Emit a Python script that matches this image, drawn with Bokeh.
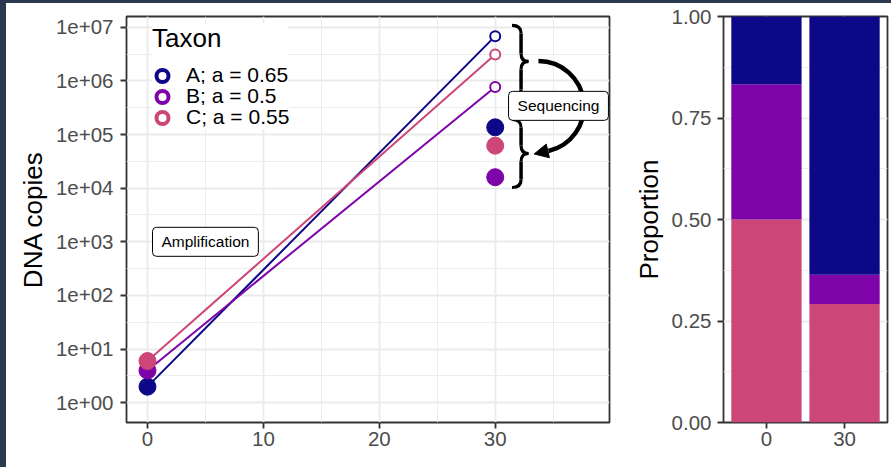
import numpy as np
from bokeh.plotting import figure
from bokeh.models import (Range1d, FactorRange, FixedTicker, CustomJSTickFormatter,
                          NumeralTickFormatter, Legend, LegendItem, Label, Arrow,
                          NormalHead, ColumnDataSource)
from bokeh.layouts import row
from bokeh.embed import file_html
from bokeh.resources import INLINE

FONT = "Liberation Sans"

# ---------------- data ----------------
taxa = ["A", "B", "C"]
taxon_labels = ["A; a = 0.65", "B; a = 0.5", "C; a = 0.55"]
taxon_colors = ["#0D0887", "#7E03A8", "#CC4678"]
cycle_start = [0, 0, 0]
cycle_end = [30, 30, 30]
start_copies = [2, 4, 6]
end_copies = [6.8e6, 7.7e5, 3.1e6]
seq_copies = [1.36e5, 1.6e4, 6.2e4]

bar_times = ["0", "30"]
prop_A = [0.167, 0.636]
prop_B = [0.333, 0.072]
prop_C = [0.500, 0.292]

x_ticks = [0, 10, 20, 30]
x_minor = [5, 15, 25, 35]
y_ticks = [1e0, 1e1, 1e2, 1e3, 1e4, 1e5, 1e6, 1e7]
y_minor = [10 ** (k + 0.5) for k in range(7)]
p_ticks = [0, 0.25, 0.5, 0.75, 1.0]
p_minor = [0.125, 0.375, 0.625, 0.875]


def style(p):
    for ax in p.axis:
        ax.axis_line_color = None
        ax.major_tick_line_color = "#333333"
        ax.major_tick_line_width = 1.8
        ax.major_tick_out = 6
        ax.major_tick_in = 0
        ax.minor_tick_line_color = None
        ax.major_label_text_font = FONT
        ax.major_label_text_font_size = "20.5px"
        ax.major_label_text_color = "#4D4D4D"
        ax.axis_label_text_font = FONT
        ax.axis_label_text_font_size = "26px"
        ax.axis_label_text_font_style = "normal"
        ax.axis_label_text_color = "black"
    p.outline_line_color = "#333333"
    p.outline_line_width = 1.8
    p.border_fill_color = "white"
    for g in p.grid:
        g.grid_line_color = "#EBEBEB"
        g.grid_line_width = 1.8
        g.minor_grid_line_color = "#EBEBEB"
        g.minor_grid_line_width = 0.9


# ---------------- left panel ----------------
p1 = figure(width=614, height=464, x_range=Range1d(-1.81, 39.86),
            y_range=Range1d(10 ** -0.367, 10 ** 7.199), y_axis_type="log",
            output_backend="svg", toolbar_location=None,
            min_border_left=120, min_border_right=11, min_border_top=13, min_border_bottom=45)
p1.xaxis.ticker = FixedTicker(ticks=x_ticks, minor_ticks=x_minor)
p1.yaxis.ticker = FixedTicker(ticks=y_ticks, minor_ticks=y_minor)
p1.yaxis.formatter = CustomJSTickFormatter(code="""
const e = Math.round(Math.log10(tick));
return "1e" + (e < 0 ? "-" : "+") + String(Math.abs(e)).padStart(2, "0");
""")
p1.yaxis.axis_label = "DNA copies"
style(p1)
p1.yaxis.major_label_standoff = 7
p1.xaxis.major_label_standoff = 3

src = ColumnDataSource(dict(taxon=taxa, color=taxon_colors, x0=cycle_start, x1=cycle_end,
                            y0=start_copies, y1=end_copies, ys=seq_copies))
p1.segment(x0="x0", y0="y0", x1="x1", y1="y1", line_color="color", line_width=2, source=src)
# ring glyph used as the legend key (hidden under the filled start points)
ring = p1.annulus(x="x0", y="y0", inner_radius=4, outer_radius=8,
                  inner_radius_units="screen", outer_radius_units="screen",
                  fill_color="color", line_color=None, source=src)
p1.scatter(x="x0", y="y0", size=17, fill_color="color", line_color="color", source=src)
p1.scatter(x="x1", y="y1", size=10, fill_color="white", line_color="color", line_width=2, source=src)
p1.scatter(x="x1", y="ys", size=17, fill_color="color", line_color="color", source=src)

# braces (annotation)
def brace(xe, xs, xt, yt, ym, yb, k):
    q = dict(x0=[xe, xs, xt, xs], y0=[yt, ym + k, ym, yb + k],
             x1=[xs, xt, xs, xe], y1=[yt - k, ym, ym - k, yb],
             cx=[xs, xs, xs, xs], cy=[yt, ym, ym, yb])
    s = dict(x0=[xs, xs], y0=[yt - k, ym - k], x1=[xs, xs], y1=[ym + k, yb + k])
    return q, s

for (yt, ym, yb) in [(7.032, 6.361, 5.690), (5.280, 4.646, 4.012)]:
    q, s = brace(31.45, 32.23, 32.87, yt, ym, yb, 0.15)
    p1.quadratic(x0=q["x0"], y0=[10 ** v for v in q["y0"]], x1=q["x1"],
                 y1=[10 ** v for v in q["y1"]], cx=q["cx"], cy=[10 ** v for v in q["cy"]],
                 line_color="black", line_width=3.2)
    p1.segment(x0=s["x0"], y0=[10 ** v for v in s["y0"]], x1=s["x1"],
               y1=[10 ** v for v in s["y1"]], line_color="black", line_width=3.5)

# curved arrow
p1.arc(x=[33.73], y=[10 ** 5.52], radius=45.5, radius_units="screen",
       start_angle=-1.35, end_angle=np.pi / 2, direction="anticlock",
       line_color="black", line_width=4.5)
p1.add_layout(Arrow(end=NormalHead(size=14, fill_color="black", line_color="black"),
                    x_start=34.54, y_start=10 ** 4.695, x_end=33.36, y_end=10 ** 4.637,
                    line_color="black", line_width=4.5))

for txt, xx, yy in [("Amplification", 5, 1e3), ("Sequencing", 35.46, 3.42e5)]:
    p1.add_layout(Label(x=xx, y=yy, text=txt, text_align="center", text_baseline="middle",
                        text_font=FONT, text_font_size="15.5px", text_color="black",
                        background_fill_color="white", border_line_color="black",
                        border_line_width=1, border_radius=4,
                        padding=dict(left=9, right=9, top=6, bottom=6)))

# legend: one Legend per entry so the rows can sit closer than the text height
legend_locs = [(26, 335), (26, 314), (26, 293)]
for i, lab in enumerate(taxon_labels):
    lg = Legend(items=[LegendItem(label=lab, renderers=[ring], index=i)],
                title="Taxon" if i == 0 else None, location=legend_locs[i],
                glyph_width=20, glyph_height=21, label_height=20, spacing=0,
                padding=0, margin=0, label_standoff=14, title_standoff=9,
                label_text_font=FONT, label_text_font_size="21px", label_text_color="black",
                title_text_font=FONT, title_text_font_size="26px",
                title_text_font_style="normal", title_text_color="black",
                border_line_color=None, background_fill_color="white",
                background_fill_alpha=1)
    p1.add_layout(lg)

# ---------------- right panel ----------------
p2 = figure(width=271, height=464,
            x_range=FactorRange(factors=bar_times, range_padding=0.05,
                                range_padding_units="absolute"),
            y_range=Range1d(0, 1), output_backend="svg", toolbar_location=None,
            min_border_left=103, min_border_right=4, min_border_top=13, min_border_bottom=45)
bsrc = ColumnDataSource(dict(time=bar_times, A=prop_A, B=prop_B, C=prop_C))
p2.vbar_stack(["C", "B", "A"], x="time", width=0.9, source=bsrc,
              fill_color=[taxon_colors[2], taxon_colors[1], taxon_colors[0]], line_color=None)
p2.yaxis.ticker = FixedTicker(ticks=p_ticks, minor_ticks=p_minor)
p2.yaxis.formatter = NumeralTickFormatter(format="0.00")
p2.yaxis.axis_label = "Proportion"
style(p2)
p2.yaxis.major_label_standoff = 6
p2.xaxis.major_label_standoff = 3

layout = row(p1, p2, styles={"border-left": "6px solid #2C384D",
                             "border-top": "3px solid #2C384D"})
open("out.html", "w").write(file_html(layout, INLINE))
